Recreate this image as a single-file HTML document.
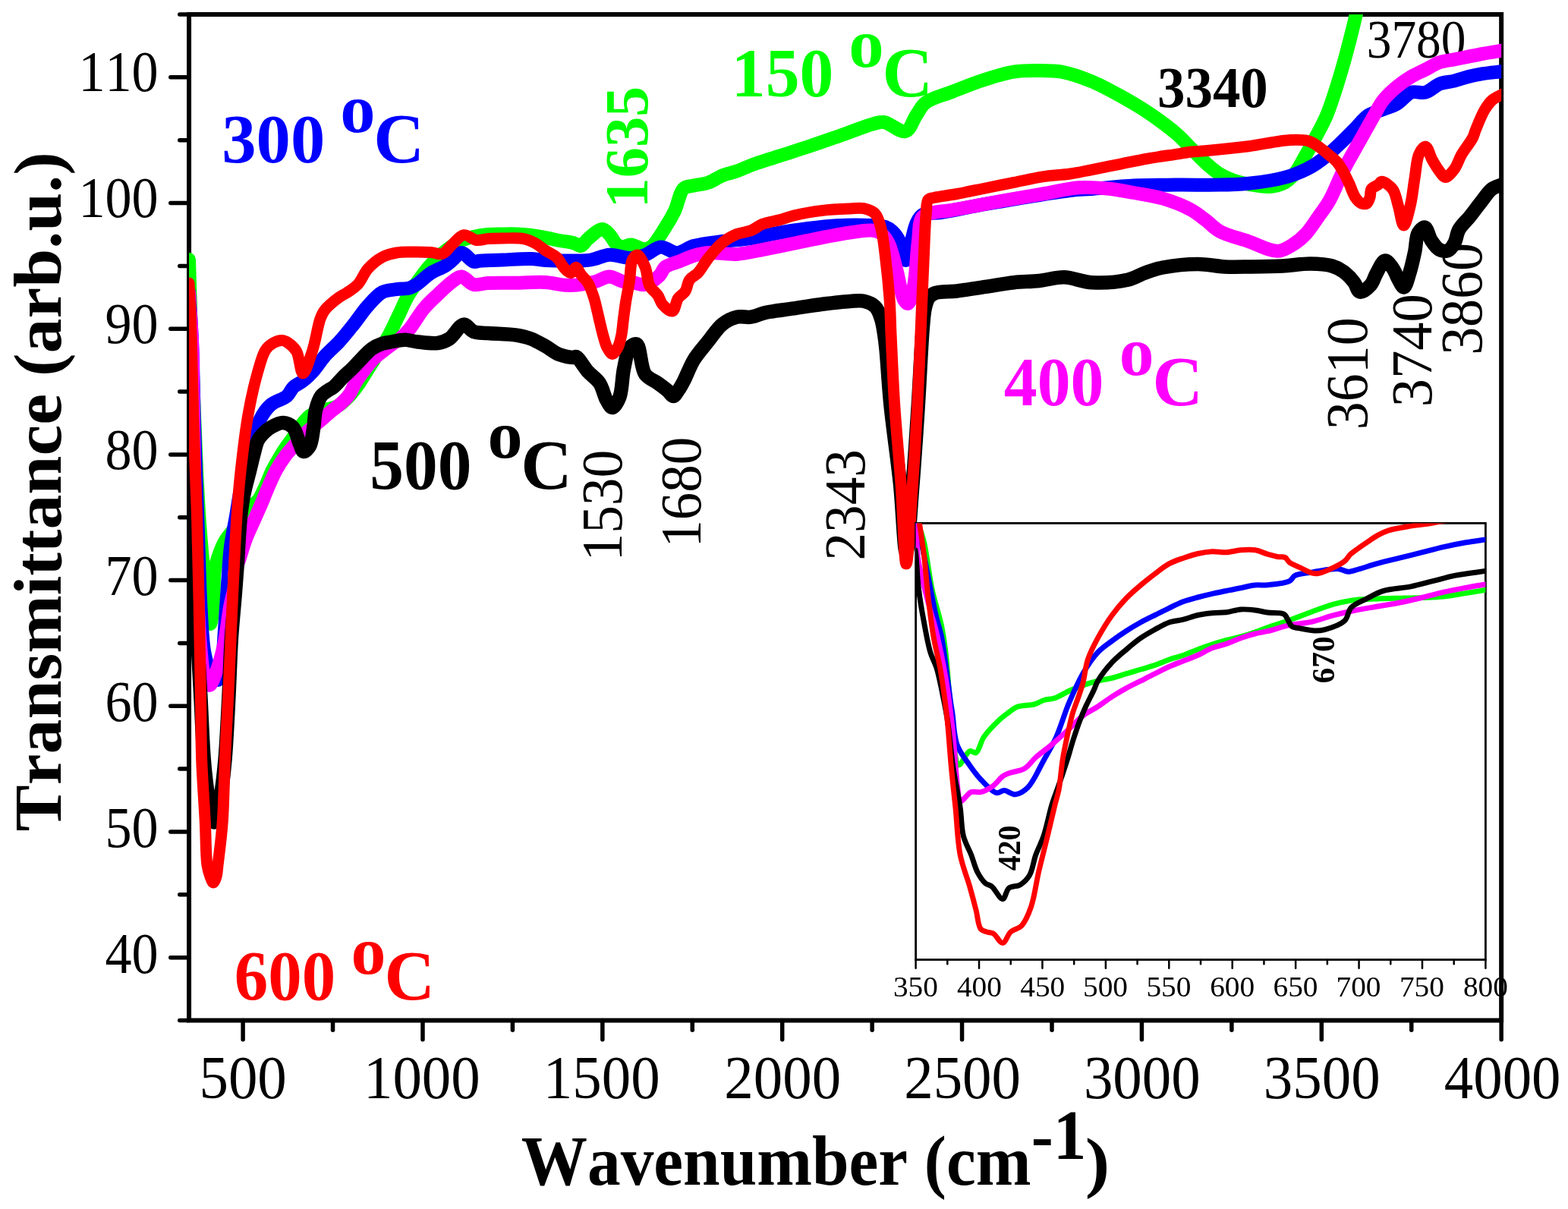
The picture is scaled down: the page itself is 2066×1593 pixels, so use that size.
<!DOCTYPE html><html><head><meta charset="utf-8"><title>FTIR spectra</title><style>html,body{margin:0;padding:0;background:#fff;width:2066px;height:1593px;overflow:hidden}svg{display:block}text{font-kerning:none}</style></head><body><svg width="2066" height="1593" viewBox="0 0 2066 1593" font-family="'Liberation Serif','Times New Roman',serif" style="font-kerning:none">
<defs><clipPath id="cm"><rect x="249.05" y="19.0" width="1729.10" height="1325.50"/></clipPath><clipPath id="ci"><rect x="1206.6" y="689.4" width="750.80" height="575.10"/></clipPath></defs>
<rect width="100%" height="100%" fill="#fff"/>
<rect x="249.05" y="19.0" width="1729.10" height="1325.50" fill="none" stroke="#000" stroke-width="6"/>
<line x1="236.75" y1="1344.50" x2="249.05" y2="1344.50" stroke="#000" stroke-width="5.5" stroke-linecap="round"/>
<line x1="224.75" y1="1261.66" x2="249.05" y2="1261.66" stroke="#000" stroke-width="5.5" stroke-linecap="round"/>
<line x1="236.75" y1="1178.81" x2="249.05" y2="1178.81" stroke="#000" stroke-width="5.5" stroke-linecap="round"/>
<line x1="224.75" y1="1095.97" x2="249.05" y2="1095.97" stroke="#000" stroke-width="5.5" stroke-linecap="round"/>
<line x1="236.75" y1="1013.12" x2="249.05" y2="1013.12" stroke="#000" stroke-width="5.5" stroke-linecap="round"/>
<line x1="224.75" y1="930.28" x2="249.05" y2="930.28" stroke="#000" stroke-width="5.5" stroke-linecap="round"/>
<line x1="236.75" y1="847.44" x2="249.05" y2="847.44" stroke="#000" stroke-width="5.5" stroke-linecap="round"/>
<line x1="224.75" y1="764.59" x2="249.05" y2="764.59" stroke="#000" stroke-width="5.5" stroke-linecap="round"/>
<line x1="236.75" y1="681.75" x2="249.05" y2="681.75" stroke="#000" stroke-width="5.5" stroke-linecap="round"/>
<line x1="224.75" y1="598.91" x2="249.05" y2="598.91" stroke="#000" stroke-width="5.5" stroke-linecap="round"/>
<line x1="236.75" y1="516.06" x2="249.05" y2="516.06" stroke="#000" stroke-width="5.5" stroke-linecap="round"/>
<line x1="224.75" y1="433.22" x2="249.05" y2="433.22" stroke="#000" stroke-width="5.5" stroke-linecap="round"/>
<line x1="236.75" y1="350.38" x2="249.05" y2="350.38" stroke="#000" stroke-width="5.5" stroke-linecap="round"/>
<line x1="224.75" y1="267.53" x2="249.05" y2="267.53" stroke="#000" stroke-width="5.5" stroke-linecap="round"/>
<line x1="236.75" y1="184.69" x2="249.05" y2="184.69" stroke="#000" stroke-width="5.5" stroke-linecap="round"/>
<line x1="224.75" y1="101.84" x2="249.05" y2="101.84" stroke="#000" stroke-width="5.5" stroke-linecap="round"/>
<line x1="236.75" y1="19.00" x2="249.05" y2="19.00" stroke="#000" stroke-width="5.5" stroke-linecap="round"/>
<line x1="320.11" y1="1344.5" x2="320.11" y2="1369.75" stroke="#000" stroke-width="5.5" stroke-linecap="round"/>
<line x1="438.54" y1="1344.5" x2="438.54" y2="1357.25" stroke="#000" stroke-width="5.5" stroke-linecap="round"/>
<line x1="556.97" y1="1344.5" x2="556.97" y2="1369.75" stroke="#000" stroke-width="5.5" stroke-linecap="round"/>
<line x1="675.40" y1="1344.5" x2="675.40" y2="1357.25" stroke="#000" stroke-width="5.5" stroke-linecap="round"/>
<line x1="793.83" y1="1344.5" x2="793.83" y2="1369.75" stroke="#000" stroke-width="5.5" stroke-linecap="round"/>
<line x1="912.27" y1="1344.5" x2="912.27" y2="1357.25" stroke="#000" stroke-width="5.5" stroke-linecap="round"/>
<line x1="1030.70" y1="1344.5" x2="1030.70" y2="1369.75" stroke="#000" stroke-width="5.5" stroke-linecap="round"/>
<line x1="1149.13" y1="1344.5" x2="1149.13" y2="1357.25" stroke="#000" stroke-width="5.5" stroke-linecap="round"/>
<line x1="1267.56" y1="1344.5" x2="1267.56" y2="1369.75" stroke="#000" stroke-width="5.5" stroke-linecap="round"/>
<line x1="1385.99" y1="1344.5" x2="1385.99" y2="1357.25" stroke="#000" stroke-width="5.5" stroke-linecap="round"/>
<line x1="1504.42" y1="1344.5" x2="1504.42" y2="1369.75" stroke="#000" stroke-width="5.5" stroke-linecap="round"/>
<line x1="1622.86" y1="1344.5" x2="1622.86" y2="1357.25" stroke="#000" stroke-width="5.5" stroke-linecap="round"/>
<line x1="1741.29" y1="1344.5" x2="1741.29" y2="1369.75" stroke="#000" stroke-width="5.5" stroke-linecap="round"/>
<line x1="1859.72" y1="1344.5" x2="1859.72" y2="1357.25" stroke="#000" stroke-width="5.5" stroke-linecap="round"/>
<line x1="1978.15" y1="1344.5" x2="1978.15" y2="1369.75" stroke="#000" stroke-width="5.5" stroke-linecap="round"/>
<text transform="translate(138.51,1282.16) scale(0.9229,1)" font-size="76.02" font-weight="normal" fill="#000">40</text>
<text transform="translate(138.51,1116.19) scale(0.9229,1)" font-size="76.02" font-weight="normal" fill="#000">50</text>
<text transform="translate(138.51,950.22) scale(0.9229,1)" font-size="76.02" font-weight="normal" fill="#000">60</text>
<text transform="translate(138.51,784.24) scale(0.9229,1)" font-size="76.02" font-weight="normal" fill="#000">70</text>
<text transform="translate(138.51,618.27) scale(0.9229,1)" font-size="76.02" font-weight="normal" fill="#000">80</text>
<text transform="translate(138.51,452.30) scale(0.9229,1)" font-size="76.02" font-weight="normal" fill="#000">90</text>
<text transform="translate(103.43,286.32) scale(0.9229,1)" font-size="76.02" font-weight="normal" fill="#000">100</text>
<text transform="translate(103.43,120.35) scale(0.9229,1)" font-size="76.02" font-weight="normal" fill="#000">110</text>
<text transform="translate(262.44,1447.01) scale(0.9456,1)" font-size="81.36" font-weight="normal" fill="#000">500</text>
<text transform="translate(478.92,1447.01) scale(0.9456,1)" font-size="81.36" font-weight="normal" fill="#000">1000</text>
<text transform="translate(715.79,1447.01) scale(0.9456,1)" font-size="81.36" font-weight="normal" fill="#000">1500</text>
<text transform="translate(954.34,1447.01) scale(0.9456,1)" font-size="81.36" font-weight="normal" fill="#000">2000</text>
<text transform="translate(1191.20,1447.01) scale(0.9456,1)" font-size="81.36" font-weight="normal" fill="#000">2500</text>
<text transform="translate(1427.91,1447.01) scale(0.9456,1)" font-size="81.36" font-weight="normal" fill="#000">3000</text>
<text transform="translate(1664.78,1447.01) scale(0.9456,1)" font-size="81.36" font-weight="normal" fill="#000">3500</text>
<text transform="translate(1902.73,1447.01) scale(0.9456,1)" font-size="81.36" font-weight="normal" fill="#000">4000</text>
<text transform="translate(79.98,1095.44) rotate(-90) scale(1.0282,1)" font-size="89.33" font-weight="bold" fill="#000">Transmittance (arb.u.)</text>
<text transform="translate(686.76,1561) scale(0.9389,1)" font-size="93.0" font-weight="bold">Wavenumber (cm</text>
<text transform="translate(1358.80,1527) scale(0.9389,1)" font-size="93.0" font-weight="bold">-1</text>
<text transform="translate(1429.86,1560.85) scale(1.0991,1)" font-size="88.56" font-weight="bold" fill="#000">)</text>
<text transform="translate(292.29,213.81) scale(0.9929,1)" font-size="91.29" font-weight="bold" fill="#0000FF">300</text>
<text transform="translate(448.28,174.01) scale(1.0110,1)" font-size="91.48" font-weight="bold" fill="#0000FF">o</text>
<text transform="translate(492.29,214.10) scale(1.0017,1)" font-size="92.28" font-weight="bold" fill="#0000FF">C</text>
<text transform="translate(963.82,127.00) scale(0.9759,1)" font-size="91.88" font-weight="bold" fill="#00FF00">150</text>
<text transform="translate(1118.17,88.01) scale(1.0159,1)" font-size="91.28" font-weight="bold" fill="#00FF00">o</text>
<text transform="translate(1162.50,127.10) scale(0.9981,1)" font-size="92.28" font-weight="bold" fill="#00FF00">C</text>
<text transform="translate(1322.80,533.81) scale(0.9606,1)" font-size="91.29" font-weight="bold" fill="#FF00FF">400</text>
<text transform="translate(1474.71,494.01) scale(1.0007,1)" font-size="91.48" font-weight="bold" fill="#FF00FF">o</text>
<text transform="translate(1518.41,534.10) scale(0.9963,1)" font-size="92.28" font-weight="bold" fill="#FF00FF">C</text>
<text transform="translate(487.32,643.90) scale(0.9682,1)" font-size="92.32" font-weight="bold" fill="#000000">500</text>
<text transform="translate(642.39,602.53) scale(1.0343,1)" font-size="89.20" font-weight="bold" fill="#000000">o</text>
<text transform="translate(686.14,644.09) scale(1.0045,1)" font-size="93.02" font-weight="bold" fill="#000000">C</text>
<text transform="translate(308.76,1316.69) scale(0.9589,1)" font-size="92.77" font-weight="bold" fill="#FF0000">600</text>
<text transform="translate(462.50,1282.83) scale(1.0314,1)" font-size="88.99" font-weight="bold" fill="#FF0000">o</text>
<text transform="translate(506.51,1317.08) scale(0.9804,1)" font-size="93.77" font-weight="bold" fill="#FF0000">C</text>
<text transform="translate(852.71,274.43) rotate(-90) scale(0.9886,1)" font-size="81.27" font-weight="bold" fill="#00FF00">1635</text>
<text transform="translate(818.95,739.55) rotate(-90) scale(0.9584,1)" font-size="76.61" font-weight="normal" fill="#000">1530</text>
<text transform="translate(922.75,721.61) rotate(-90) scale(0.9551,1)" font-size="76.32" font-weight="normal" fill="#000">1680</text>
<text transform="translate(1139.45,738.52) rotate(-90) scale(0.9585,1)" font-size="76.35" font-weight="normal" fill="#000">2343</text>
<text transform="translate(1801.14,566.24) rotate(-90) scale(0.9557,1)" font-size="77.36" font-weight="normal" fill="#000">3610</text>
<text transform="translate(1886.15,536.37) rotate(-90) scale(0.9682,1)" font-size="77.06" font-weight="normal" fill="#000">3740</text>
<text transform="translate(1952.24,467.84) rotate(-90) scale(0.9557,1)" font-size="77.36" font-weight="normal" fill="#000">3860</text>
<text transform="translate(1525.06,141.05) scale(0.9437,1)" font-size="77.21" font-weight="bold" fill="#000">3340</text>
<text transform="translate(1800.77,76.30) scale(0.9169,1)" font-size="71.28" font-weight="normal" fill="#000">3780</text>
<g clip-path="url(#cm)">
<path d="M249.0,342.0 C250.0,374.7 250.7,402.4 252.0,440.0 C253.8,491.0 256.8,573.9 259.0,620.0 C260.4,648.8 261.4,667.6 263.0,690.0 C264.5,710.8 266.4,730.9 268.0,750.0 C269.4,767.4 270.0,786.8 272.0,800.0 C273.4,808.9 275.5,822.1 277.0,822.0 C278.6,821.9 280.0,805.2 281.0,795.0 C282.3,781.9 280.9,762.4 283.0,750.0 C284.6,740.9 287.4,733.8 290.0,727.0 C292.2,721.4 294.0,717.0 297.0,712.0 C300.4,706.3 305.5,700.9 310.0,695.0 C314.8,688.6 320.4,680.6 325.0,675.0 C328.6,670.7 332.1,667.1 335.0,664.0 C337.2,661.7 339.0,660.7 341.0,658.0 C344.0,653.8 347.1,646.2 350.0,640.0 C353.0,633.6 355.6,626.1 358.6,620.0 C361.3,614.6 364.2,609.8 367.0,605.0 C369.7,600.5 372.1,596.4 375.0,592.0 C378.1,587.4 381.7,582.8 385.0,578.0 C388.4,573.1 391.3,567.9 395.0,563.0 C398.9,557.9 402.9,551.7 408.0,548.0 C412.9,544.5 419.0,543.1 425.0,541.0 C431.3,538.7 439.1,538.2 445.0,535.0 C450.7,531.8 455.4,526.8 460.0,522.0 C464.6,517.1 468.6,511.6 472.6,506.0 C476.7,500.3 480.4,493.7 484.0,488.0 C487.3,482.8 490.6,477.9 493.4,473.0 C495.9,468.6 497.4,464.3 500.0,460.0 C502.8,455.3 506.6,451.6 510.0,446.0 C514.6,438.4 519.4,427.3 524.0,418.0 C528.6,408.7 532.7,398.4 537.5,390.0 C541.7,382.6 546.4,376.4 551.0,370.0 C555.4,363.8 560.0,357.4 564.6,352.0 C568.7,347.2 573.0,342.7 577.0,339.0 C580.3,335.9 582.7,333.9 586.5,331.0 C591.6,327.1 598.8,321.2 605.3,318.0 C611.3,315.0 617.7,313.5 624.0,312.0 C630.3,310.5 636.7,309.6 643.0,309.0 C649.3,308.4 655.5,308.6 661.8,308.5 C668.1,308.4 674.4,308.2 680.7,308.5 C687.0,308.8 693.2,309.3 699.5,310.0 C705.8,310.8 712.1,311.8 718.3,313.0 C724.6,314.2 730.7,315.8 737.0,317.0 C743.3,318.2 750.8,318.8 756.0,320.3 C759.7,321.3 762.5,324.6 765.4,324.0 C768.8,323.3 770.9,317.8 774.8,314.6 C779.9,310.5 788.5,301.9 793.7,302.0 C797.4,302.1 800.1,306.0 803.0,309.0 C806.4,312.5 809.1,319.2 812.5,322.0 C814.9,324.0 817.2,325.2 820.0,325.5 C823.3,325.8 827.2,322.4 831.3,322.6 C836.4,322.8 843.4,328.2 848.2,328.3 C851.8,328.4 854.4,327.8 857.7,325.5 C863.7,321.3 871.5,307.5 877.0,299.0 C881.7,291.7 885.2,285.8 889.0,278.0 C893.3,269.1 895.3,253.3 901.0,248.2 C904.7,244.9 909.4,245.7 914.2,244.5 C919.9,243.1 926.9,242.8 933.0,240.7 C939.4,238.5 945.4,233.8 951.8,231.3 C958.0,228.8 964.4,227.8 970.7,225.6 C977.2,223.3 982.3,220.4 990.0,217.6 C1001.0,213.5 1017.1,208.7 1030.7,204.3 C1044.2,199.9 1057.8,195.7 1071.3,191.1 C1084.9,186.5 1098.4,181.6 1112.0,176.9 C1125.5,172.2 1142.9,165.0 1152.6,162.7 C1157.8,161.4 1160.0,160.4 1164.8,161.0 C1172.4,162.0 1186.1,175.2 1193.3,173.0 C1199.9,171.0 1202.9,158.1 1207.5,151.5 C1211.6,145.6 1213.7,139.8 1219.7,135.2 C1227.8,129.0 1242.3,125.7 1254.3,121.0 C1267.3,115.9 1281.3,110.1 1295.0,105.7 C1308.4,101.3 1322.9,96.6 1335.6,94.6 C1346.4,92.9 1355.6,93.0 1366.0,93.0 C1377.0,93.0 1388.5,92.7 1400.0,94.8 C1412.4,97.1 1425.3,101.9 1437.7,107.0 C1450.4,112.2 1462.9,119.1 1475.3,125.9 C1488.0,132.9 1500.6,140.2 1513.0,148.5 C1525.8,157.1 1540.5,168.0 1550.7,176.8 C1558.3,183.4 1563.2,189.3 1569.5,195.6 C1575.8,201.9 1581.9,208.6 1588.3,214.4 C1594.4,219.9 1600.6,225.5 1607.2,229.5 C1613.3,233.2 1619.6,235.8 1626.0,238.0 C1632.2,240.1 1637.9,241.4 1644.8,242.7 C1653.2,244.2 1664.8,246.5 1673.0,246.0 C1679.4,245.6 1684.8,244.5 1690.0,242.0 C1695.5,239.3 1700.4,235.2 1705.0,230.0 C1710.6,223.5 1715.1,213.5 1720.0,205.0 C1725.1,196.2 1730.3,187.0 1735.0,178.0 C1739.6,169.3 1743.6,162.5 1748.0,152.0 C1754.3,136.9 1761.3,114.0 1767.0,95.0 C1772.6,76.3 1777.9,55.4 1782.0,39.0 C1785.2,26.3 1787.3,16.3 1790.0,5.0" fill="none" stroke="#00FF00" stroke-width="18" stroke-linejoin="round" stroke-linecap="round"/>
<path d="M249.0,385.0 C250.3,406.7 251.9,425.5 253.0,450.0 C254.4,481.9 254.8,521.9 256.0,560.0 C257.3,601.1 259.0,646.8 260.5,688.0 C261.9,726.6 262.7,768.5 264.5,800.0 C265.9,823.1 266.4,844.4 269.4,860.0 C271.4,870.3 273.8,879.2 277.0,885.0 C279.1,888.7 282.0,891.0 284.0,893.0 C285.3,894.3 286.5,896.3 287.5,896.0 C289.5,895.4 290.8,886.9 292.0,880.0 C294.1,868.0 294.7,847.4 296.0,830.0 C297.4,810.9 298.6,789.1 300.0,770.0 C301.3,752.6 302.0,735.7 304.0,720.0 C305.8,705.9 308.7,693.3 311.0,680.0 C313.3,666.7 315.0,653.0 318.0,640.0 C320.9,627.2 325.4,614.2 328.5,602.5 C331.2,592.4 333.2,582.8 335.7,574.0 C337.9,566.3 339.3,559.4 342.7,552.7 C346.2,545.8 350.9,538.5 356.8,533.4 C362.7,528.3 372.7,526.5 377.9,522.0 C382.0,518.4 383.2,513.3 386.7,510.0 C390.2,506.7 394.9,505.2 399.0,502.0 C403.7,498.3 408.4,493.7 413.0,488.6 C418.2,482.8 422.7,475.1 428.3,468.8 C434.1,462.3 441.1,456.7 447.2,450.0 C453.7,442.9 459.8,435.1 466.0,427.3 C472.3,419.4 478.2,410.2 484.8,402.9 C490.8,396.2 496.9,388.6 503.7,385.0 C509.6,382.0 516.3,382.2 522.5,381.2 C528.4,380.3 535.3,380.7 540.0,379.3 C543.5,378.3 545.4,377.0 548.8,374.9 C554.1,371.5 561.2,364.0 567.7,359.8 C573.8,355.9 581.4,353.6 586.5,350.4 C590.4,348.0 592.7,345.6 596.0,342.9 C599.8,339.8 603.7,333.1 608.0,333.0 C612.9,332.9 619.4,343.5 624.0,344.7 C626.9,345.5 628.3,344.1 631.7,343.8 C638.4,343.3 651.2,342.9 661.8,342.5 C673.7,342.0 689.1,340.7 699.5,341.0 C706.9,341.2 710.3,342.5 718.3,342.9 C732.1,343.6 763.9,344.0 774.8,342.9 C779.3,342.5 780.5,341.9 784.2,341.0 C789.4,339.7 796.1,336.1 803.0,335.7 C811.1,335.2 821.7,340.2 830.0,340.0 C837.2,339.9 843.4,338.3 850.0,336.0 C857.0,333.6 863.8,325.9 870.8,325.5 C877.6,325.1 884.5,333.1 891.6,333.0 C899.0,332.9 905.6,326.4 914.2,324.0 C925.0,321.0 939.2,319.7 951.8,318.0 C964.3,316.3 977.0,315.9 989.5,314.0 C1002.1,312.1 1014.4,308.8 1027.0,306.6 C1039.5,304.4 1052.2,302.6 1064.8,301.0 C1077.4,299.4 1089.3,297.9 1102.5,297.2 C1116.9,296.4 1135.9,296.4 1147.7,297.0 C1155.3,297.4 1161.5,297.2 1166.5,299.0 C1170.4,300.4 1173.1,302.3 1176.0,305.0 C1179.5,308.3 1182.6,312.7 1185.3,318.0 C1188.8,324.8 1191.2,343.1 1193.8,343.0 C1196.3,342.9 1198.1,327.6 1200.4,319.5 C1202.8,311.0 1204.8,299.6 1208.0,293.1 C1210.2,288.7 1211.6,285.3 1215.5,283.0 C1220.9,279.8 1230.1,281.5 1240.0,280.0 C1255.6,277.6 1277.0,272.7 1300.0,268.7 C1331.1,263.3 1385.5,253.9 1410.0,251.0 C1422.3,249.6 1426.8,249.8 1437.7,249.0 C1453.2,247.8 1475.2,245.5 1494.0,244.6 C1512.7,243.7 1531.2,243.8 1550.0,243.6 C1568.9,243.4 1589.9,244.0 1607.0,243.6 C1621.0,243.3 1633.3,242.8 1645.0,241.7 C1655.1,240.8 1663.8,239.7 1673.0,238.0 C1682.1,236.3 1691.1,234.7 1700.0,231.7 C1709.3,228.6 1719.6,224.2 1727.7,219.6 C1734.8,215.6 1740.4,211.3 1746.5,206.4 C1752.9,201.3 1759.1,195.4 1765.3,189.5 C1771.7,183.5 1777.9,177.0 1784.2,170.7 C1790.5,164.4 1796.2,156.3 1803.0,151.8 C1808.9,147.9 1815.5,146.8 1821.8,144.3 C1828.1,141.8 1834.7,140.3 1840.7,136.8 C1847.3,133.0 1852.8,124.1 1859.5,121.7 C1865.4,119.6 1872.2,123.4 1878.3,121.7 C1884.9,119.9 1890.7,112.9 1897.2,110.4 C1903.3,108.0 1909.8,108.2 1916.0,106.6 C1922.3,105.0 1928.5,102.6 1934.8,101.0 C1941.1,99.4 1946.9,98.3 1953.7,97.2 C1961.7,95.9 1971.2,95.1 1980.0,94.0" fill="none" stroke="#0000FF" stroke-width="18" stroke-linejoin="round" stroke-linecap="round"/>
<path d="M249.0,385.0 C250.3,406.7 252.0,425.5 253.0,450.0 C254.3,481.9 254.3,522.5 255.0,560.0 C255.7,599.1 256.1,641.8 257.0,680.0 C257.8,714.9 258.7,749.6 260.0,780.0 C261.1,805.4 262.2,829.9 264.0,850.0 C265.4,865.2 266.0,880.5 269.0,890.0 C270.8,895.7 273.6,903.0 276.0,903.0 C278.9,903.0 282.2,892.1 285.0,885.0 C288.7,875.4 292.2,862.8 295.0,850.0 C298.4,834.9 300.2,815.7 303.0,800.0 C305.5,785.9 312.4,764.8 311.0,760.0 C310.6,758.7 309.3,759.2 309.0,758.0 C308.1,754.6 313.6,742.8 316.0,735.0 C318.5,726.8 320.9,718.3 324.0,710.0 C327.2,701.6 331.3,693.3 335.0,685.0 C338.7,676.7 343.3,666.5 346.0,660.0 C347.7,655.9 348.2,654.2 350.0,650.0 C353.1,642.7 358.8,628.8 363.6,620.0 C367.7,612.5 372.5,605.4 376.5,600.0 C379.5,596.0 381.7,593.8 385.0,590.0 C389.3,585.1 394.4,578.5 400.0,573.0 C406.0,567.1 413.5,561.5 420.0,556.0 C426.1,550.8 432.4,545.2 437.8,540.7 C442.2,537.1 446.2,534.5 450.0,531.0 C453.8,527.5 457.4,523.9 460.4,519.6 C463.5,515.1 465.3,509.3 468.2,504.5 C471.1,499.8 474.3,495.6 477.7,491.0 C481.5,485.8 485.8,479.7 490.2,475.0 C494.2,470.8 498.6,467.5 502.8,464.0 C506.9,460.6 511.1,457.5 515.3,454.4 C519.5,451.4 523.9,449.0 527.9,445.6 C532.2,442.0 535.8,438.2 540.0,433.0 C545.7,426.0 551.7,414.7 558.2,406.9 C564.1,399.8 570.6,394.0 577.0,388.0 C583.2,382.1 590.2,375.1 596.0,371.0 C600.3,368.0 603.8,364.3 608.0,364.5 C613.0,364.7 618.2,373.5 624.0,374.9 C629.8,376.3 635.6,373.4 643.0,373.0 C653.4,372.4 668.1,372.9 680.7,372.7 C693.2,372.5 706.7,371.3 718.3,372.0 C728.4,372.6 738.1,375.4 746.6,375.8 C753.5,376.1 759.2,375.7 765.4,374.9 C771.7,374.1 778.0,372.8 784.2,371.1 C790.5,369.4 796.9,364.5 803.0,364.5 C808.8,364.5 814.4,369.4 820.0,370.7 C825.1,371.9 830.0,371.8 835.0,372.5 C840.0,373.2 844.9,376.0 850.0,375.0 C856.2,373.8 864.4,367.5 869.0,363.0 C872.5,359.5 872.8,354.8 876.5,351.8 C881.0,348.2 889.0,346.8 895.3,344.3 C901.6,341.8 907.8,338.7 914.2,336.8 C920.4,335.0 925.6,333.6 933.0,333.0 C943.4,332.2 958.2,335.7 970.7,334.9 C983.3,334.1 992.7,331.2 1008.3,328.3 C1034.0,323.5 1084.3,312.3 1110.0,308.2 C1125.6,305.7 1138.8,303.0 1147.7,303.5 C1152.6,303.8 1155.5,304.2 1159.0,306.3 C1163.2,308.9 1167.0,313.5 1170.3,319.5 C1175.2,328.5 1178.1,344.4 1181.6,357.0 C1185.0,369.5 1187.1,388.2 1191.0,394.8 C1192.7,397.7 1194.9,400.4 1196.6,400.0 C1199.7,399.2 1202.2,385.8 1204.2,376.0 C1207.2,361.3 1207.6,335.9 1209.8,319.5 C1211.5,306.7 1210.4,291.8 1215.5,285.6 C1219.0,281.4 1225.1,281.3 1230.5,280.0 C1236.5,278.5 1241.5,278.8 1250.0,277.5 C1266.3,275.0 1298.8,268.4 1320.7,264.5 C1339.6,261.2 1356.5,258.4 1373.7,255.5 C1390.0,252.7 1406.4,248.3 1421.4,247.3 C1434.6,246.4 1446.7,247.3 1459.0,248.5 C1471.0,249.6 1482.3,251.9 1494.2,254.0 C1506.5,256.2 1519.4,257.8 1531.8,261.5 C1544.5,265.3 1559.4,271.1 1569.5,276.6 C1577.1,280.7 1582.1,285.2 1588.3,289.8 C1594.7,294.6 1599.4,300.5 1607.2,304.8 C1617.2,310.3 1632.1,313.7 1644.8,318.0 C1657.6,322.4 1672.8,331.3 1683.6,330.8 C1691.5,330.4 1697.7,325.8 1703.9,322.0 C1710.1,318.2 1715.5,313.7 1720.8,308.0 C1726.9,301.5 1732.5,292.2 1737.8,284.6 C1742.8,277.6 1747.2,272.2 1751.8,264.0 C1757.9,253.2 1763.5,237.5 1770.0,224.7 C1776.5,211.9 1783.8,199.6 1790.8,187.1 C1797.8,174.5 1806.2,159.4 1812.0,149.4 C1815.8,142.8 1817.6,138.4 1821.8,133.0 C1826.8,126.6 1834.2,119.7 1840.7,114.2 C1846.8,109.1 1853.1,104.8 1859.5,101.0 C1865.6,97.3 1872.0,94.7 1878.3,91.6 C1884.6,88.4 1890.8,84.3 1897.2,82.1 C1903.3,80.0 1909.7,79.6 1916.0,78.4 C1922.3,77.1 1928.5,75.9 1934.8,74.6 C1941.1,73.3 1946.9,72.0 1953.7,70.8 C1961.7,69.3 1971.2,67.9 1980.0,66.5" fill="none" stroke="#FF00FF" stroke-width="18" stroke-linejoin="round" stroke-linecap="round"/>
<path d="M249.0,400.0 C250.0,466.7 250.7,538.1 252.0,600.0 C253.1,653.6 254.4,705.1 256.0,750.0 C257.3,786.7 258.9,819.6 260.5,850.0 C261.8,875.4 263.2,895.8 264.5,920.0 C265.9,946.0 266.9,978.3 268.8,1001.0 C270.1,1017.6 271.7,1031.5 273.5,1044.0 C274.9,1053.8 276.3,1062.8 278.0,1070.0 C279.2,1075.3 280.7,1083.5 282.0,1083.5 C283.3,1083.5 284.7,1075.3 286.0,1070.0 C287.8,1062.8 289.9,1053.8 291.5,1044.0 C293.5,1031.5 295.0,1017.6 296.5,1001.0 C298.5,978.3 299.9,946.9 301.3,920.0 C302.7,893.3 303.4,864.7 305.0,840.0 C306.4,818.6 308.6,798.0 310.0,780.0 C311.2,765.3 312.2,752.3 313.0,740.0 C313.7,729.6 314.0,720.7 314.7,711.0 C315.4,701.1 315.9,691.0 317.0,681.0 C318.1,671.0 319.4,661.0 321.4,651.0 C323.4,640.8 326.7,629.7 329.0,620.5 C330.9,613.0 332.2,606.8 334.0,600.0 C335.8,593.3 337.2,585.3 340.0,580.0 C342.2,575.8 345.1,572.9 348.0,570.0 C350.8,567.3 353.4,565.0 357.0,563.0 C361.4,560.5 368.0,556.8 373.0,557.0 C377.6,557.2 382.5,559.4 386.0,563.0 C390.5,567.7 392.3,579.1 395.0,585.0 C396.8,589.0 397.8,594.6 400.0,595.0 C402.2,595.4 406.0,591.5 408.0,588.0 C411.0,582.8 411.7,572.9 413.0,565.0 C414.4,556.9 414.1,547.5 416.0,540.0 C417.7,533.4 419.7,526.5 423.0,522.0 C425.7,518.3 429.9,516.2 433.0,514.0 C435.5,512.2 437.5,511.6 440.0,509.6 C443.6,506.6 447.9,501.1 452.0,497.0 C456.2,492.8 460.7,489.0 465.0,484.7 C469.4,480.3 473.7,475.3 478.0,471.0 C482.0,466.9 485.7,462.5 490.0,459.5 C494.0,456.6 498.7,454.5 503.0,453.0 C507.0,451.6 510.5,451.3 515.0,450.5 C520.6,449.5 528.1,447.7 534.0,447.8 C539.2,447.9 543.1,449.6 548.8,450.2 C556.7,451.1 569.2,453.2 577.0,452.0 C582.9,451.1 587.0,449.6 592.0,446.4 C598.4,442.3 605.1,428.1 611.0,427.6 C615.6,427.2 619.0,435.1 624.0,437.0 C629.5,439.1 635.6,438.3 643.0,439.0 C653.4,439.9 670.4,440.0 680.7,441.7 C688.1,442.9 693.4,444.1 699.5,446.4 C705.9,448.8 712.1,452.5 718.3,455.9 C724.6,459.4 730.5,464.7 737.0,467.2 C743.1,469.6 752.4,471.2 756.0,471.0 C757.4,470.9 757.8,469.6 759.0,470.0 C762.5,471.0 769.4,483.8 774.8,489.8 C779.8,495.3 786.0,498.8 790.0,504.8 C794.3,511.2 795.9,521.6 799.3,527.4 C801.7,531.5 804.2,537.1 806.8,537.0 C809.8,536.9 813.8,529.6 816.2,523.7 C819.9,514.6 819.5,497.6 822.0,486.0 C824.2,475.8 825.8,462.7 830.0,457.7 C832.4,454.8 836.2,452.3 838.8,453.5 C844.1,455.9 843.8,484.2 850.0,493.0 C854.4,499.2 861.7,501.1 867.0,505.0 C871.7,508.4 876.4,511.9 880.0,515.0 C882.8,517.4 884.7,522.1 887.0,522.0 C889.4,521.9 891.8,517.1 894.0,514.0 C896.5,510.5 898.4,506.9 901.0,502.0 C904.8,494.7 908.9,482.9 914.2,474.2 C919.5,465.5 926.7,457.7 933.0,449.8 C939.2,442.1 944.9,432.7 951.8,427.2 C957.6,422.6 964.2,419.2 970.7,417.7 C976.8,416.3 983.3,418.6 989.5,417.7 C995.8,416.8 1000.9,413.7 1008.3,412.0 C1018.6,409.7 1033.4,408.3 1046.0,406.4 C1058.6,404.5 1071.2,402.4 1083.7,400.8 C1095.9,399.3 1110.0,397.6 1120.0,397.0 C1127.1,396.6 1132.6,395.4 1138.2,396.7 C1143.6,397.9 1149.5,400.4 1153.3,404.2 C1157.2,408.1 1159.1,414.3 1161.0,420.0 C1163.1,426.2 1163.9,433.3 1165.0,440.0 C1166.1,446.6 1166.6,451.2 1167.5,460.0 C1169.2,476.8 1170.7,507.0 1173.4,533.6 C1176.6,565.2 1182.4,603.6 1185.9,637.0 C1189.2,668.3 1191.2,728.0 1194.0,728.0 C1196.8,728.0 1200.0,668.3 1202.6,637.0 C1205.3,603.7 1207.6,568.1 1209.8,533.6 C1212.0,499.1 1214.0,452.7 1216.0,430.0 C1217.0,418.8 1217.3,411.9 1219.0,405.0 C1220.3,399.9 1221.5,395.3 1224.0,392.0 C1226.2,389.2 1228.5,387.4 1232.4,386.0 C1238.8,383.6 1250.6,384.7 1260.7,383.5 C1272.4,382.1 1285.8,379.8 1298.3,377.9 C1310.9,376.0 1323.8,373.5 1336.0,372.2 C1347.4,371.0 1358.4,371.2 1369.4,370.0 C1380.4,368.9 1390.8,365.1 1402.0,365.3 C1414.0,365.6 1425.9,371.6 1439.0,372.3 C1453.6,373.1 1472.9,371.7 1485.6,368.8 C1494.9,366.6 1501.0,362.2 1508.8,359.5 C1516.5,356.8 1522.8,354.3 1532.0,352.5 C1544.7,350.0 1564.1,347.9 1578.5,347.9 C1591.0,347.9 1601.8,350.8 1613.4,351.4 C1625.0,352.0 1636.1,351.5 1648.2,351.4 C1661.5,351.3 1676.6,351.2 1690.0,350.5 C1702.5,349.9 1714.9,347.5 1726.3,347.6 C1736.5,347.7 1747.4,348.2 1755.3,350.5 C1761.2,352.2 1765.3,354.5 1769.9,357.8 C1775.1,361.5 1780.6,367.4 1784.4,372.3 C1787.5,376.3 1788.2,383.7 1791.6,384.5 C1795.3,385.4 1802.5,379.3 1806.2,375.2 C1809.7,371.3 1810.5,365.6 1813.4,360.7 C1816.7,355.1 1821.0,343.9 1825.0,343.5 C1828.3,343.2 1832.3,349.5 1835.2,353.4 C1838.3,357.6 1839.9,363.6 1842.5,368.0 C1844.8,371.9 1847.5,378.7 1849.7,378.5 C1852.4,378.2 1854.8,367.5 1857.0,360.7 C1859.8,352.3 1862.2,340.9 1864.2,331.6 C1866.0,323.1 1865.5,312.5 1868.6,307.0 C1870.7,303.3 1874.7,299.0 1877.3,299.5 C1880.7,300.2 1882.6,312.0 1886.0,317.1 C1889.0,321.6 1892.2,326.6 1896.2,328.7 C1899.6,330.5 1904.5,331.5 1907.8,330.2 C1911.3,328.8 1914.2,324.1 1916.5,320.0 C1919.2,315.2 1919.2,308.1 1922.3,302.6 C1925.7,296.5 1932.0,291.2 1936.8,285.2 C1941.7,279.1 1946.5,272.4 1951.4,266.3 C1956.2,260.3 1960.6,252.8 1965.9,248.9 C1970.3,245.7 1975.3,245.0 1980.0,243.0" fill="none" stroke="#000000" stroke-width="18.5" stroke-linejoin="round" stroke-linecap="round"/>
<path d="M249.0,373.0 C250.0,395.3 251.1,414.4 252.0,440.0 C253.2,474.2 253.8,520.0 255.0,560.0 C256.3,600.0 258.1,633.1 259.5,680.0 C261.4,746.3 263.5,861.2 264.5,920.0 C265.1,954.2 264.7,973.9 265.7,1001.0 C266.7,1028.3 269.0,1058.1 270.3,1083.0 C271.4,1103.7 271.0,1127.2 273.0,1140.0 C274.0,1146.7 275.4,1150.8 277.0,1155.0 C278.2,1158.2 279.7,1163.0 281.0,1163.0 C282.3,1163.0 284.0,1158.2 285.0,1155.0 C286.3,1150.9 286.2,1146.6 287.0,1140.0 C288.6,1127.1 291.7,1103.8 293.2,1083.0 C295.0,1058.2 295.2,1028.2 296.4,1001.0 C297.6,973.9 298.8,954.2 300.5,920.0 C303.4,861.2 308.4,733.3 312.0,680.0 C313.8,653.3 314.9,641.0 317.2,620.0 C319.8,596.6 322.9,568.9 327.0,546.0 C330.6,525.8 335.3,505.0 339.8,489.5 C343.1,478.3 345.6,467.5 350.0,461.0 C352.9,456.7 356.3,454.1 360.0,452.0 C363.6,450.0 368.3,448.3 371.8,448.5 C374.8,448.7 377.3,450.1 380.0,452.0 C383.6,454.5 387.8,458.0 390.7,463.0 C394.8,470.0 395.6,491.8 399.0,492.0 C402.6,492.2 408.3,472.2 412.0,461.0 C416.1,448.4 418.5,429.3 422.0,420.0 C423.9,414.8 424.9,412.4 428.0,408.5 C432.3,403.0 441.6,395.5 447.0,391.6 C450.6,389.0 453.1,388.3 456.6,386.0 C461.1,383.0 467.1,379.4 471.6,374.6 C476.7,369.1 479.4,360.0 484.8,354.0 C490.1,348.1 497.1,342.3 503.7,338.8 C509.7,335.6 516.3,334.1 522.5,333.0 C528.4,331.9 533.5,332.1 540.0,332.0 C548.2,331.8 559.9,331.9 567.7,332.5 C573.5,332.9 578.2,335.9 582.7,334.4 C587.7,332.8 591.4,326.1 596.0,322.0 C600.8,317.8 605.6,310.5 611.0,309.7 C616.3,308.9 622.4,315.8 628.0,316.5 C633.1,317.1 637.7,315.0 643.0,314.6 C648.9,314.1 654.9,314.0 661.8,314.0 C670.2,314.0 682.2,313.1 690.0,314.6 C695.9,315.7 700.3,317.8 705.0,320.3 C709.7,322.8 713.7,326.6 718.3,329.7 C723.1,332.9 729.3,335.1 733.4,339.0 C737.4,342.7 739.4,348.7 742.8,352.3 C745.7,355.4 749.4,360.0 752.2,359.8 C754.7,359.6 756.7,352.2 758.8,352.3 C761.1,352.4 762.9,358.5 765.4,361.7 C768.2,365.3 772.1,368.5 774.8,373.0 C778.0,378.3 780.3,385.5 782.4,391.8 C784.4,397.8 785.6,404.2 787.0,410.0 C788.3,415.2 789.2,419.8 790.5,425.0 C791.9,430.7 793.3,437.3 795.0,443.0 C796.5,448.3 797.7,453.9 800.0,458.0 C801.9,461.4 804.7,466.5 807.0,466.5 C809.3,466.5 812.2,461.5 814.0,458.0 C816.2,453.9 817.3,448.6 818.5,443.0 C820.0,436.2 820.5,427.6 821.5,420.0 C822.5,412.6 823.3,405.7 824.5,398.0 C825.9,389.4 828.0,379.9 829.4,370.7 C830.9,361.4 830.3,348.2 833.2,342.4 C834.9,339.1 837.5,335.7 839.8,336.0 C843.1,336.4 847.4,345.7 850.0,351.8 C853.0,358.9 852.5,369.7 855.8,376.3 C858.6,381.8 864.1,385.1 867.0,389.5 C869.5,393.3 869.9,397.5 872.7,400.8 C875.9,404.5 882.6,411.0 886.0,410.0 C889.6,409.0 890.3,397.9 893.4,393.3 C896.1,389.4 900.4,387.6 902.9,383.8 C905.6,379.6 905.6,372.9 908.5,368.8 C911.3,364.9 916.1,363.4 919.8,359.4 C924.4,354.4 928.0,346.8 933.0,340.5 C938.5,333.6 945.1,325.3 951.8,319.8 C957.8,314.9 964.2,311.2 970.7,308.5 C976.8,306.0 983.7,306.1 989.5,303.8 C995.0,301.6 998.9,297.6 1004.6,295.3 C1011.2,292.7 1019.9,291.7 1027.0,289.7 C1033.6,287.9 1038.5,285.8 1046.0,284.0 C1056.4,281.5 1071.2,278.9 1083.7,277.4 C1095.9,275.9 1110.0,275.4 1120.0,275.0 C1127.1,274.7 1132.5,273.5 1138.2,274.7 C1143.6,275.9 1149.6,277.8 1153.3,281.8 C1157.4,286.2 1158.8,293.2 1160.8,300.7 C1163.6,311.0 1164.8,324.5 1166.5,338.3 C1168.6,355.2 1170.8,377.0 1172.1,394.8 C1173.2,410.7 1173.2,422.2 1174.0,440.0 C1175.2,465.6 1176.6,501.6 1178.7,533.6 C1180.9,567.3 1184.5,602.6 1187.0,637.3 C1189.6,672.4 1191.4,743.0 1194.0,743.0 C1196.6,743.0 1200.0,672.4 1202.5,637.3 C1205.0,602.6 1207.0,567.3 1208.8,533.6 C1210.5,501.6 1211.6,471.8 1213.0,440.0 C1214.4,406.8 1215.9,367.3 1217.3,338.3 C1218.3,316.7 1218.8,295.6 1220.2,281.8 C1221.0,273.8 1220.3,266.2 1223.0,263.0 C1224.8,260.9 1227.1,261.3 1230.5,260.5 C1237.2,258.9 1250.1,257.4 1260.7,255.5 C1272.6,253.3 1285.8,250.5 1298.3,248.0 C1310.9,245.5 1323.4,242.9 1336.0,240.4 C1348.6,237.9 1361.2,234.8 1373.7,232.9 C1385.9,231.0 1398.7,230.7 1410.0,229.0 C1419.9,227.5 1427.8,225.7 1437.7,223.8 C1449.3,221.6 1462.8,218.8 1475.3,216.3 C1487.9,213.8 1500.4,211.0 1513.0,208.8 C1525.5,206.6 1540.2,204.7 1550.7,203.1 C1558.2,201.9 1563.7,200.7 1570.0,200.0 C1576.1,199.3 1580.3,199.5 1588.0,198.8 C1601.7,197.6 1626.2,195.2 1645.0,192.8 C1663.5,190.4 1685.3,185.2 1700.0,184.5 C1709.8,184.1 1717.9,184.1 1724.5,186.0 C1729.5,187.4 1732.7,190.1 1736.7,192.7 C1740.9,195.5 1744.9,199.0 1749.0,202.4 C1753.1,205.8 1757.8,209.1 1761.2,213.0 C1764.5,216.7 1766.8,220.8 1769.4,225.3 C1772.3,230.3 1774.9,236.0 1777.6,241.6 C1780.4,247.5 1782.5,255.3 1785.7,260.0 C1788.1,263.5 1791.0,266.8 1793.9,268.0 C1796.2,268.9 1799.2,269.1 1801.0,268.0 C1803.0,266.7 1804.0,263.0 1805.0,260.0 C1806.1,256.7 1805.1,251.8 1807.0,249.0 C1808.8,246.3 1813.5,245.1 1815.9,243.3 C1817.8,241.9 1818.6,239.4 1820.6,239.3 C1824.0,239.1 1831.4,244.7 1835.0,249.4 C1839.0,254.8 1840.0,263.4 1842.3,271.0 C1844.8,279.2 1846.9,296.9 1849.5,297.0 C1852.2,297.1 1855.9,280.5 1858.2,271.0 C1860.9,260.1 1862.0,246.6 1864.0,235.0 C1865.9,224.1 1866.2,210.5 1869.7,203.2 C1871.9,198.5 1875.7,192.8 1878.4,193.1 C1881.6,193.5 1883.9,204.8 1887.0,210.4 C1890.1,215.9 1893.8,222.2 1897.1,226.3 C1899.6,229.3 1901.6,233.4 1904.4,233.5 C1907.8,233.6 1912.5,227.7 1915.9,223.4 C1920.0,218.1 1922.1,209.9 1926.0,203.2 C1930.2,196.0 1937.5,187.4 1940.5,181.5 C1942.4,177.8 1942.4,175.9 1944.0,172.0 C1946.7,165.3 1951.7,152.2 1956.0,145.0 C1959.2,139.7 1962.0,135.5 1966.0,132.0 C1970.0,128.5 1975.3,126.7 1980.0,124.0" fill="none" stroke="#FF0000" stroke-width="15" stroke-linejoin="round" stroke-linecap="round"/>
</g>
<rect x="1206.6" y="689.4" width="750.80" height="575.10" fill="#fff" stroke="none"/>
<rect x="1206.6" y="689.4" width="750.80" height="575.10" fill="none" stroke="#000" stroke-width="2.8"/>
<line x1="1206.60" y1="1264.5" x2="1206.60" y2="1275.75" stroke="#000" stroke-width="2.5" stroke-linecap="round"/>
<line x1="1248.31" y1="1264.5" x2="1248.31" y2="1270.25" stroke="#000" stroke-width="2.5" stroke-linecap="round"/>
<line x1="1290.02" y1="1264.5" x2="1290.02" y2="1275.75" stroke="#000" stroke-width="2.5" stroke-linecap="round"/>
<line x1="1331.73" y1="1264.5" x2="1331.73" y2="1270.25" stroke="#000" stroke-width="2.5" stroke-linecap="round"/>
<line x1="1373.44" y1="1264.5" x2="1373.44" y2="1275.75" stroke="#000" stroke-width="2.5" stroke-linecap="round"/>
<line x1="1415.16" y1="1264.5" x2="1415.16" y2="1270.25" stroke="#000" stroke-width="2.5" stroke-linecap="round"/>
<line x1="1456.87" y1="1264.5" x2="1456.87" y2="1275.75" stroke="#000" stroke-width="2.5" stroke-linecap="round"/>
<line x1="1498.58" y1="1264.5" x2="1498.58" y2="1270.25" stroke="#000" stroke-width="2.5" stroke-linecap="round"/>
<line x1="1540.29" y1="1264.5" x2="1540.29" y2="1275.75" stroke="#000" stroke-width="2.5" stroke-linecap="round"/>
<line x1="1582.00" y1="1264.5" x2="1582.00" y2="1270.25" stroke="#000" stroke-width="2.5" stroke-linecap="round"/>
<line x1="1623.71" y1="1264.5" x2="1623.71" y2="1275.75" stroke="#000" stroke-width="2.5" stroke-linecap="round"/>
<line x1="1665.42" y1="1264.5" x2="1665.42" y2="1270.25" stroke="#000" stroke-width="2.5" stroke-linecap="round"/>
<line x1="1707.13" y1="1264.5" x2="1707.13" y2="1275.75" stroke="#000" stroke-width="2.5" stroke-linecap="round"/>
<line x1="1748.84" y1="1264.5" x2="1748.84" y2="1270.25" stroke="#000" stroke-width="2.5" stroke-linecap="round"/>
<line x1="1790.56" y1="1264.5" x2="1790.56" y2="1275.75" stroke="#000" stroke-width="2.5" stroke-linecap="round"/>
<line x1="1832.27" y1="1264.5" x2="1832.27" y2="1270.25" stroke="#000" stroke-width="2.5" stroke-linecap="round"/>
<line x1="1873.98" y1="1264.5" x2="1873.98" y2="1275.75" stroke="#000" stroke-width="2.5" stroke-linecap="round"/>
<line x1="1915.69" y1="1264.5" x2="1915.69" y2="1270.25" stroke="#000" stroke-width="2.5" stroke-linecap="round"/>
<line x1="1957.40" y1="1264.5" x2="1957.40" y2="1275.75" stroke="#000" stroke-width="2.5" stroke-linecap="round"/>
<text transform="translate(1176.92,1313.13) scale(1.0284,1)" font-size="38.23" font-weight="normal" fill="#000">350</text>
<text transform="translate(1260.90,1313.13) scale(1.0284,1)" font-size="38.23" font-weight="normal" fill="#000">400</text>
<text transform="translate(1344.32,1313.13) scale(1.0284,1)" font-size="38.23" font-weight="normal" fill="#000">450</text>
<text transform="translate(1426.98,1313.13) scale(1.0284,1)" font-size="38.23" font-weight="normal" fill="#000">500</text>
<text transform="translate(1510.41,1313.13) scale(1.0284,1)" font-size="38.23" font-weight="normal" fill="#000">550</text>
<text transform="translate(1594.13,1313.13) scale(1.0284,1)" font-size="38.23" font-weight="normal" fill="#000">600</text>
<text transform="translate(1677.55,1313.13) scale(1.0284,1)" font-size="38.23" font-weight="normal" fill="#000">650</text>
<text transform="translate(1760.52,1313.13) scale(1.0284,1)" font-size="38.23" font-weight="normal" fill="#000">700</text>
<text transform="translate(1843.94,1313.13) scale(1.0284,1)" font-size="38.23" font-weight="normal" fill="#000">750</text>
<text transform="translate(1927.91,1313.13) scale(1.0284,1)" font-size="38.23" font-weight="normal" fill="#000">800</text>
<text transform="translate(1343.59,1147.35) rotate(-90) scale(0.9635,1)" font-size="41.49" font-weight="bold" fill="#000">420</text>
<text transform="translate(1757.59,900.41) rotate(-90) scale(0.9976,1)" font-size="41.49" font-weight="bold" fill="#000">670</text>
<g clip-path="url(#ci)">
<path d="M1210.0,690.0 C1212.5,698.3 1215.2,704.7 1217.6,715.0 C1221.4,730.9 1224.0,757.6 1228.1,776.7 C1231.7,793.6 1237.3,809.2 1240.4,824.0 C1243.0,836.7 1244.3,846.0 1246.0,860.0 C1248.3,879.5 1250.1,908.1 1252.0,930.0 C1253.7,949.4 1254.4,970.7 1257.0,985.0 C1258.7,994.4 1259.7,1007.3 1263.2,1008.0 C1266.6,1008.7 1273.0,991.3 1277.7,989.7 C1280.5,988.7 1283.5,993.0 1286.0,991.8 C1290.1,989.9 1291.7,977.9 1296.3,971.1 C1301.6,963.3 1311.1,953.9 1317.0,948.3 C1320.9,944.6 1323.7,942.7 1327.4,940.0 C1331.5,937.0 1335.3,933.3 1340.6,931.3 C1346.9,928.9 1357.1,929.6 1363.4,927.8 C1368.2,926.4 1371.4,923.8 1375.7,922.5 C1380.2,921.1 1385.0,921.5 1390.0,919.8 C1396.0,917.8 1402.5,913.2 1408.8,910.3 C1415.0,907.5 1421.4,905.0 1427.7,902.8 C1433.9,900.6 1440.2,898.8 1446.5,897.2 C1452.7,895.6 1459.1,895.0 1465.3,893.4 C1471.6,891.8 1477.9,889.6 1484.2,887.7 C1490.5,885.8 1496.7,883.9 1503.0,882.0 C1509.3,880.1 1515.6,878.5 1521.8,876.4 C1528.1,874.2 1534.4,871.2 1540.7,869.0 C1546.9,866.8 1553.3,865.5 1559.5,863.3 C1565.8,861.1 1572.0,858.1 1578.3,855.7 C1584.6,853.3 1590.9,851.1 1597.2,849.1 C1603.5,847.1 1609.7,845.2 1616.0,843.5 C1622.2,841.8 1628.5,840.5 1634.8,838.8 C1641.1,837.1 1647.7,835.2 1653.7,833.1 C1659.4,831.1 1663.8,828.9 1670.0,826.7 C1678.2,823.7 1689.4,820.6 1699.0,817.2 C1708.7,813.8 1718.3,809.8 1728.0,806.3 C1737.7,802.8 1747.3,798.9 1757.1,796.2 C1766.7,793.6 1776.5,791.6 1786.2,790.4 C1795.8,789.2 1805.5,789.3 1815.2,788.9 C1824.9,788.5 1834.5,788.4 1844.2,788.2 C1853.9,788.0 1863.6,787.9 1873.3,787.5 C1883.0,787.1 1892.6,787.0 1902.3,786.0 C1912.0,785.0 1921.7,783.1 1931.4,781.6 C1941.0,780.1 1950.5,778.5 1960.0,777.0" fill="none" stroke="#00FF00" stroke-width="7" stroke-linejoin="round" stroke-linecap="round"/>
<path d="M1208.0,690.0 C1210.3,700.0 1212.7,709.3 1215.0,720.0 C1217.6,732.1 1220.0,745.0 1222.8,759.0 C1226.1,775.3 1230.0,797.3 1233.4,811.8 C1235.8,822.2 1238.4,828.7 1240.4,838.2 C1242.6,849.0 1243.9,860.4 1245.7,873.3 C1247.9,889.1 1251.0,914.1 1252.7,926.0 C1253.6,932.2 1254.0,934.1 1254.9,940.0 C1256.5,950.2 1256.7,969.5 1261.1,981.5 C1264.9,991.9 1272.1,1000.4 1277.7,1008.4 C1282.5,1015.3 1286.6,1021.1 1292.2,1027.0 C1298.2,1033.3 1306.9,1043.4 1312.9,1044.7 C1316.7,1045.5 1319.6,1041.5 1323.3,1041.6 C1327.7,1041.7 1332.9,1047.1 1337.8,1046.7 C1343.3,1046.2 1349.2,1042.5 1354.4,1037.4 C1362.0,1029.9 1368.6,1013.6 1375.0,1002.2 C1381.0,991.6 1386.5,982.7 1391.7,971.1 C1397.9,957.5 1402.6,939.9 1408.8,925.4 C1414.7,911.6 1420.9,897.5 1427.7,885.9 C1433.6,875.9 1439.7,866.7 1446.5,859.5 C1452.4,853.3 1458.9,849.2 1465.3,844.4 C1471.5,839.7 1477.8,835.3 1484.2,831.2 C1490.4,827.2 1496.7,823.5 1503.0,820.0 C1509.2,816.6 1515.5,813.6 1521.8,810.5 C1528.1,807.3 1534.4,804.1 1540.7,801.1 C1546.9,798.1 1553.2,795.0 1559.5,792.6 C1565.7,790.3 1572.0,788.7 1578.3,787.0 C1584.6,785.3 1590.9,783.7 1597.2,782.3 C1603.5,780.9 1609.7,779.8 1616.0,778.5 C1622.3,777.2 1628.5,775.9 1634.8,774.7 C1641.1,773.4 1647.6,771.6 1653.7,771.0 C1659.3,770.4 1663.8,771.4 1670.0,770.8 C1678.3,770.0 1692.8,768.9 1699.0,765.7 C1702.7,763.8 1702.8,760.2 1706.3,758.4 C1711.4,755.7 1720.7,755.4 1728.0,754.1 C1735.3,752.8 1743.3,751.1 1749.9,750.4 C1755.2,749.8 1759.9,749.1 1764.4,749.7 C1768.5,750.2 1772.2,753.1 1776.0,753.3 C1779.5,753.5 1782.0,752.2 1786.2,751.1 C1793.4,749.2 1805.5,745.1 1815.2,742.4 C1824.8,739.8 1834.5,737.6 1844.2,735.2 C1853.9,732.8 1863.6,730.3 1873.3,727.9 C1883.0,725.5 1892.6,722.9 1902.3,720.7 C1912.0,718.5 1921.7,716.5 1931.4,714.8 C1941.0,713.1 1950.5,711.9 1960.0,710.5" fill="none" stroke="#0000FF" stroke-width="7" stroke-linejoin="round" stroke-linecap="round"/>
<path d="M1208.0,690.0 C1208.3,704.0 1207.2,717.0 1209.0,732.0 C1211.2,749.9 1217.4,771.6 1222.0,790.0 C1226.2,806.9 1231.2,821.7 1235.1,838.2 C1239.1,855.3 1242.5,872.2 1245.7,891.0 C1249.3,912.4 1252.3,936.1 1255.0,960.0 C1257.8,985.6 1259.6,1023.6 1262.0,1040.0 C1263.1,1047.4 1262.5,1055.1 1265.2,1056.0 C1268.1,1057.0 1274.7,1045.4 1279.7,1043.6 C1283.8,1042.1 1287.9,1044.6 1292.2,1043.6 C1297.5,1042.4 1303.9,1038.8 1308.8,1035.3 C1313.5,1031.9 1317.3,1025.7 1321.2,1022.9 C1324.1,1020.8 1326.0,1020.2 1329.5,1018.8 C1334.8,1016.7 1344.3,1016.1 1350.2,1012.5 C1356.0,1009.0 1359.3,1002.8 1364.7,998.0 C1370.9,992.5 1378.6,987.3 1385.4,981.5 C1392.4,975.6 1399.3,969.2 1406.2,962.8 C1413.4,956.2 1420.5,947.9 1427.7,942.4 C1433.9,937.6 1440.3,935.0 1446.5,931.0 C1452.8,926.9 1459.0,922.0 1465.3,917.9 C1471.5,913.9 1477.8,910.1 1484.2,906.6 C1490.4,903.2 1496.7,900.3 1503.0,897.2 C1509.3,894.0 1515.5,890.8 1521.8,887.7 C1528.1,884.5 1534.3,881.1 1540.7,878.3 C1546.9,875.5 1553.2,873.3 1559.5,870.8 C1565.8,868.3 1572.1,866.1 1578.3,863.3 C1584.7,860.4 1590.8,856.3 1597.2,853.8 C1603.4,851.4 1609.8,850.4 1616.0,848.2 C1622.3,846.0 1628.5,842.9 1634.8,840.7 C1641.0,838.5 1647.6,836.5 1653.7,835.0 C1659.3,833.6 1663.8,833.2 1670.0,831.7 C1678.3,829.7 1689.3,825.8 1699.0,823.7 C1708.6,821.7 1718.4,821.5 1728.0,819.4 C1737.8,817.2 1747.4,813.3 1757.1,810.7 C1766.8,808.2 1776.5,806.1 1786.2,804.1 C1795.9,802.2 1805.5,800.7 1815.2,799.0 C1824.9,797.3 1834.5,795.9 1844.2,794.0 C1853.9,792.1 1863.6,789.8 1873.3,787.5 C1883.0,785.2 1892.6,782.4 1902.3,780.2 C1912.0,778.0 1921.7,776.2 1931.4,774.4 C1941.0,772.6 1950.5,771.1 1960.0,769.5" fill="none" stroke="#FF00FF" stroke-width="7" stroke-linejoin="round" stroke-linecap="round"/>
<path d="M1206.0,725.0 C1206.3,727.6 1206.6,729.1 1207.0,732.7 C1207.9,741.3 1208.7,762.1 1210.5,776.7 C1212.3,791.4 1214.9,806.4 1217.6,820.6 C1220.1,834.1 1222.7,849.2 1226.0,860.0 C1228.4,867.9 1231.6,872.3 1234.0,880.0 C1237.1,889.9 1239.6,903.3 1242.0,915.0 C1244.4,926.6 1246.5,936.6 1248.5,950.0 C1251.2,967.7 1253.1,992.2 1256.0,1012.0 C1258.7,1030.2 1262.9,1048.4 1265.2,1064.4 C1267.1,1077.9 1266.6,1090.7 1269.4,1101.7 C1271.8,1111.0 1276.5,1118.4 1279.7,1126.5 C1282.7,1134.2 1284.5,1142.8 1288.0,1149.3 C1291.0,1154.9 1294.7,1160.6 1298.4,1163.8 C1301.1,1166.1 1303.8,1165.7 1306.7,1168.0 C1311.2,1171.5 1317.3,1185.0 1321.2,1184.6 C1324.6,1184.3 1325.5,1173.1 1329.5,1170.0 C1333.3,1167.1 1339.6,1168.5 1344.0,1165.9 C1348.7,1163.1 1353.1,1158.9 1356.4,1153.5 C1360.6,1146.6 1361.6,1135.2 1364.7,1126.5 C1367.8,1118.0 1371.8,1111.2 1375.0,1101.7 C1379.0,1089.7 1382.6,1071.2 1386.0,1060.0 C1388.4,1052.3 1390.5,1047.2 1392.8,1040.7 C1395.2,1033.9 1397.7,1026.8 1400.0,1020.0 C1402.2,1013.4 1404.2,1007.5 1406.4,1000.5 C1408.9,992.6 1411.3,983.4 1414.0,975.0 C1416.7,966.7 1419.5,958.1 1422.5,950.3 C1425.2,943.2 1427.9,936.7 1431.0,930.0 C1434.1,923.3 1438.1,916.0 1440.9,910.0 C1443.1,905.3 1443.7,902.0 1446.5,897.2 C1450.7,890.1 1458.7,879.9 1465.3,872.7 C1471.3,866.2 1477.8,861.1 1484.2,855.7 C1490.4,850.4 1496.6,845.2 1503.0,840.7 C1509.1,836.4 1515.5,832.9 1521.8,829.4 C1528.0,826.0 1534.3,822.2 1540.7,820.0 C1546.8,817.9 1553.3,817.8 1559.5,816.2 C1565.8,814.6 1572.0,811.9 1578.3,810.5 C1584.5,809.1 1590.9,808.3 1597.2,807.7 C1603.5,807.1 1609.8,807.6 1616.0,806.8 C1622.3,806.0 1628.5,803.5 1634.8,803.0 C1641.1,802.5 1647.7,803.3 1653.7,804.0 C1659.4,804.7 1664.2,806.2 1670.0,807.0 C1676.7,808.0 1687.2,806.4 1691.8,809.2 C1695.0,811.1 1695.8,815.2 1697.6,818.0 C1699.2,820.5 1699.7,823.5 1702.0,825.2 C1704.7,827.2 1709.2,827.2 1713.6,828.1 C1719.1,829.2 1726.7,830.9 1732.4,831.0 C1737.2,831.1 1740.5,830.9 1745.5,829.6 C1752.8,827.6 1765.7,823.6 1771.6,818.0 C1776.5,813.4 1775.9,805.2 1780.4,800.5 C1785.3,795.3 1793.7,792.5 1800.7,788.9 C1807.8,785.2 1814.1,781.3 1822.5,778.7 C1832.9,775.5 1847.4,775.2 1858.8,772.9 C1869.1,770.8 1878.1,768.1 1887.8,765.7 C1897.5,763.3 1906.1,760.5 1916.8,758.4 C1929.7,755.8 1945.6,754.1 1960.0,752.0" fill="none" stroke="#000000" stroke-width="7" stroke-linejoin="round" stroke-linecap="round"/>
<path d="M1211.0,686.0 C1213.2,701.6 1215.7,716.6 1217.6,732.7 C1219.6,749.7 1220.8,767.8 1222.8,785.4 C1224.9,803.0 1227.1,821.7 1229.9,838.2 C1232.4,853.0 1236.2,866.7 1238.6,880.0 C1240.8,892.2 1242.4,903.3 1244.0,915.0 C1245.6,926.7 1246.9,936.7 1248.3,950.0 C1250.1,967.7 1251.6,992.2 1253.5,1012.0 C1255.2,1030.2 1257.1,1046.2 1259.0,1064.4 C1261.0,1084.2 1261.5,1108.0 1265.2,1126.5 C1268.3,1141.9 1274.0,1155.1 1277.7,1168.0 C1280.8,1179.1 1283.5,1189.2 1286.0,1199.0 C1288.3,1207.8 1288.5,1219.5 1292.2,1224.0 C1294.4,1226.7 1297.7,1227.0 1300.5,1228.0 C1303.2,1229.0 1306.0,1228.4 1308.8,1230.0 C1312.8,1232.3 1317.4,1242.9 1321.2,1242.6 C1325.0,1242.3 1327.4,1231.8 1331.6,1228.0 C1335.7,1224.3 1341.9,1224.1 1346.0,1219.8 C1351.3,1214.2 1355.0,1204.9 1358.5,1195.0 C1363.1,1181.9 1365.3,1162.6 1368.9,1147.3 C1372.2,1133.0 1375.8,1120.0 1379.2,1105.8 C1382.8,1090.9 1387.1,1072.0 1390.1,1060.0 C1392.0,1052.2 1393.6,1048.4 1395.1,1040.7 C1397.2,1029.8 1398.1,1013.4 1400.2,1000.5 C1402.2,988.3 1404.9,976.0 1407.2,965.3 C1409.2,956.2 1410.9,948.0 1413.2,940.2 C1415.3,933.1 1418.0,926.8 1420.3,920.1 C1422.6,913.4 1424.8,907.5 1426.8,900.0 C1429.2,890.8 1430.0,878.9 1433.3,869.0 C1436.6,859.2 1441.4,850.1 1446.5,840.7 C1452.0,830.6 1458.7,819.6 1465.3,810.5 C1471.3,802.2 1477.7,794.8 1484.2,788.0 C1490.3,781.7 1496.6,776.4 1503.0,771.0 C1509.2,765.7 1515.5,760.8 1521.8,756.0 C1528.0,751.3 1534.2,746.2 1540.7,742.7 C1546.8,739.4 1553.2,737.4 1559.5,735.2 C1565.7,733.0 1572.0,730.9 1578.3,729.5 C1584.5,728.1 1590.9,727.0 1597.2,726.7 C1603.5,726.4 1609.7,728.0 1616.0,727.7 C1622.3,727.4 1628.5,725.3 1634.8,724.8 C1641.1,724.3 1647.7,723.8 1653.7,724.8 C1659.4,725.7 1664.7,728.6 1670.0,730.1 C1674.9,731.5 1680.3,733.0 1684.5,733.7 C1687.7,734.2 1690.8,733.3 1693.2,734.5 C1695.6,735.7 1696.4,739.0 1699.0,741.0 C1702.6,743.7 1708.7,745.9 1713.6,748.2 C1718.4,750.5 1723.7,753.7 1728.0,754.8 C1731.2,755.6 1733.6,755.9 1736.8,755.5 C1740.8,755.0 1745.1,753.2 1749.9,751.1 C1756.3,748.3 1766.5,743.6 1771.6,739.5 C1775.0,736.7 1776.3,733.3 1778.9,730.8 C1781.2,728.5 1783.3,727.2 1786.2,725.0 C1790.2,722.0 1795.8,718.1 1800.7,714.8 C1805.5,711.6 1810.3,708.1 1815.2,705.4 C1819.9,702.8 1823.9,700.7 1829.7,698.9 C1837.6,696.4 1849.8,694.6 1858.8,693.1 C1866.5,691.8 1872.7,691.4 1880.5,690.2 C1889.6,688.8 1900.2,686.7 1910.0,685.0" fill="none" stroke="#FF0000" stroke-width="7" stroke-linejoin="round" stroke-linecap="round"/>
</g>
</svg></body></html>
